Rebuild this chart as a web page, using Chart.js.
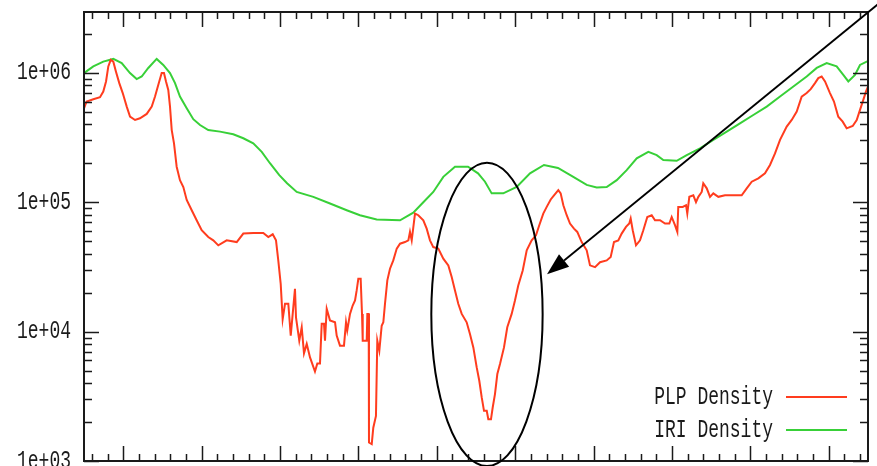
<!DOCTYPE html>
<html>
<head>
<meta charset="utf-8">
<script src="https://cdn.jsdelivr.net/npm/chart.js@4/dist/chart.umd.min.js"></script>
<style>
  html, body { margin: 0; padding: 0; background: #ffffff; }
  canvas { display: block; }
</style>
</head>
<body>
<canvas id="c" width="877" height="466"></canvas>
<script>
// ---- data (x: arbitrary sample axis 0..100, y: density) ----
const plpX = [
  0,0.34,1.19,2.04,2.46,2.81,3.10,3.41,3.74,4.08,
  4.50,4.94,5.45,5.87,6.51,7.14,8.0,8.64,9.06,9.48,
  9.91,10.2,10.46,10.75,10.97,11.19,11.48,11.82,12.24,12.67,
  13.1,13.74,14.37,15.01,15.85,16.49,17.13,18.2,19.48,20.32,
  21.59,22.87,23.51,24.07,24.49,24.78,25.09,25.34,25.64,26.06,
  26.37,26.62,26.91,27.04,27.46,27.77,28.06,28.41,28.83,29.46,
  29.76,30.1,30.32,30.61,30.74,30.96,31.38,32.02,32.23,32.65,
  33.16,33.42,33.58,33.93,34.27,34.57,34.78,34.99,35.29,35.46,
  35.55,36.06,36.14,36.31,36.35,36.7,36.9,37.24,37.41,37.67,
  37.97,38.18,38.39,38.69,39.03,39.45,39.89,40.31,40.94,41.37,
  41.58,41.8,42.22,42.64,43.28,43.71,44.13,44.55,45.19,45.83,
  46.47,46.9,47.32,47.74,48.18,48.81,49.23,49.66,50.09,50.42,
  50.73,51.02,51.37,51.57,51.91,52.13,52.42,52.72,53.06,53.57,
  53.99,54.55,54.97,55.39,55.96,56.47,57.1,57.65,58.07,58.58,
  59.02,59.53,59.95,60.5,60.8,61.14,61.57,61.99,62.5,62.92,
  63.48,64.12,64.54,65.18,65.82,66.67,67.18,67.6,68.15,68.58,
  69.13,69.55,69.73,69.99,70.41,70.92,71.34,71.85,72.41,72.83,
  73.47,74.11,74.66,74.96,75.38,75.68,75.8,76.37,76.79,76.95,
  77.21,77.72,78.06,78.36,78.79,78.99,79.43,79.85,80.27,80.91,
  81.76,83.89,84.53,85.17,86.01,86.86,87.5,88.14,88.78,89.63,
  90.27,90.91,91.54,92.18,92.69,93.24,93.66,94.09,94.52,95.15,
  95.66,96.21,96.77,97.28,98.05,98.56,98.98,99.4,99.74,100
];
const plpDensity = [
  5.32e5,6.0e5,6.25e5,6.48e5,7.16e5,8.57e5,1.12e6,1.26e6,1.22e6,1.02e6,
  8.32e5,6.97e5,5.48e5,4.58e5,4.32e5,4.45e5,4.81e5,5.48e5,6.55e5,8.07e5,
  9.95e5,9.95e5,8.57e5,7.38e5,5.48e5,3.61e5,2.85e5,1.88e5,1.48e5,1.31e5,
  1.04e5,8.67e4,7.25e4,6.07e4,5.38e4,5.07e4,4.64e4,5.07e4,4.92e4,5.72e4,
  5.78e4,5.78e4,5.38e4,5.65e4,5.07e4,3.55e4,2.34e4,1.25e4,1.64e4,1.64e4,
  9.31e3,1.37e4,2.14e4,1.29e4,8.51e3,1.08e4,6.79e3,8.03e3,6.32e3,4.92e3,
  5.68e3,5.68e3,1.15e4,1.15e4,8.51e3,1.50e4,1.22e4,1.18e4,9.31e3,7.79e3,
  7.79e3,1.18e4,1.02e4,1.37e4,1.59e4,1.74e4,2.08e4,2.56e4,2.56e4,1.37e4,
  8.51e3,8.51e3,1.37e4,1.37e4,1.39e3,1.35e3,1.81e3,2.23e3,8.51e3,7.12e3,
  1.11e4,1.18e4,1.64e4,2.49e4,3.06e4,3.55e4,4.38e4,4.78e4,4.92e4,5.07e4,
  5.89e4,5.07e4,8.17e4,7.93e4,7.25e4,6.25e4,5.07e4,4.50e4,4.38e4,3.66e4,
  3.25e4,2.64e4,2.08e4,1.64e4,1.37e4,1.18e4,9.60e3,7.55e3,5.29e3,4.17e3,
  3.10e3,2.44e3,2.44e3,2.10e3,2.10e3,2.59e3,3.29e3,4.70e3,5.62e3,7.55e3,
  1.08e4,1.37e4,1.74e4,2.27e4,2.97e4,4.25e4,5.07e4,5.55e4,6.64e4,8.17e4,
  9.20e4,1.05e5,1.13e5,1.24e5,1.17e5,9.48e4,7.93e4,6.84e4,6.25e4,5.89e4,
  4.92e4,4.25e4,3.25e4,3.15e4,3.44e4,3.55e4,3.77e4,4.92e4,5.07e4,5.72e4,
  6.44e4,6.84e4,7.48e4,6.07e4,4.64e4,5.07e4,6.07e4,7.69e4,7.93e4,7.25e4,
  7.25e4,6.84e4,6.84e4,7.69e4,6.64e4,5.89e4,9.20e4,9.20e4,9.48e4,8.17e4,
  1.10e5,1.13e5,1.00e5,1.10e5,1.20e5,1.40e5,1.28e5,1.10e5,1.17e5,1.10e5,
  1.13e5,1.13e5,1.28e5,1.44e5,1.53e5,1.67e5,1.94e5,2.38e5,3.03e5,3.84e5,
  4.32e5,5.01e5,6.55e5,6.97e5,7.48e5,8.32e5,9.10e5,9.36e5,8.57e5,6.97e5,
  6.0e5,4.58e5,4.19e5,3.72e5,3.88e5,4.32e5,5.17e5,6.18e5,7.16e5,7.83e5
];
const iriX = [
  0,1.19,2.46,3.74,4.81,5.87,6.72,7.36,8.2,9.27,
  10.11,10.97,11.61,12.24,13.1,13.94,14.8,15.85,17.35,19.04,
  20.32,21.59,22.67,23.72,24.91,25.9,27.13,29.25,31.38,33.51,
  35.2,37.33,40.31,42.0,43.28,44.55,45.83,47.32,48.98,50.26,
  51.15,52.0,53.48,55.19,56.89,58.67,60.46,62.41,64.12,65.4,
  66.67,67.95,69.22,70.5,71.98,73.05,73.89,75.6,76.88,78.57,
  80.27,81.98,83.67,85.37,87.08,88.78,90.48,92.18,93.46,94.73,
  96.0,96.85,97.49,98.34,98.98,99.83,100
];
const iriDensity = [
  9.95e5,1.12e6,1.22e6,1.28e6,1.19e6,9.95e5,8.94e5,9.36e5,1.09e6,1.28e6,
  1.15e6,9.95e5,8.32e5,6.55e5,5.32e5,4.38e5,3.95e5,3.61e5,3.51e5,3.35e5,
  3.12e5,2.85e5,2.45e5,2.0e5,1.62e5,1.40e5,1.20e5,1.10e5,9.77e4,8.67e4,
  7.93e4,7.35e4,7.25e4,8.29e4,1.00e5,1.20e5,1.57e5,1.88e5,1.88e5,1.67e5,
  1.44e5,1.17e5,1.17e5,1.31e5,1.67e5,1.94e5,1.84e5,1.57e5,1.36e5,1.30e5,
  1.31e5,1.48e5,1.77e5,2.18e5,2.45e5,2.31e5,2.12e5,2.09e5,2.31e5,2.61e5,
  3.03e5,3.51e5,4.07e5,4.72e5,5.48e5,6.55e5,7.83e5,9.36e5,1.09e6,1.19e6,
  1.12e6,9.64e5,8.57e5,9.64e5,1.15e6,1.22e6,1.23e6
];
const seriesNames = ["PLP Density", "IRI Density"];
const yTickLabels = ["1e+03", "1e+04", "1e+05", "1e+06"];
const yTickValues = [1e3, 1e4, 1e5, 1e6];
// annotation (data coords): highlighted dip and arrow pointing at it
const ellipseX = [44.3, 58.5];
const ellipseY = [914, 2.02e5];
const arrowFrom = [102, 3.68e6];
const arrowTo = [59.06, 2.77e4];

const RED = '#ff3c1e', GREEN = '#38d038', INK = '#1a1a1a';
const FONT = '18px "Liberation Mono", "DejaVu Sans Mono", monospace';

function stretchedText(ctx, s, x, y, align) {
  ctx.save();
  ctx.translate(x, y);
  ctx.scale(1, 1.4);
  ctx.textAlign = align;
  ctx.textBaseline = 'middle';
  ctx.fillText(s, 0, 0);
  ctx.restore();
}

const decor = {
  id: 'decor',
  afterDatasetsDraw(chart) {
    const ctx = chart.ctx, a = chart.chartArea;
    const xs = chart.scales.x, ys = chart.scales.y;
    ctx.save();
    ctx.strokeStyle = INK;
    // x ticks (top and bottom)
    ctx.lineWidth = 1.5;
    ctx.beginPath();
    for (let v = 1; v < 100; v += 2) {
      const px = Math.round(xs.getPixelForValue(v)) + 0.5;
      const len = ((v - 5) % 10 === 0) ? 15 : 7;
      ctx.moveTo(px, a.bottom); ctx.lineTo(px, a.bottom - len);
      ctx.moveTo(px, a.top); ctx.lineTo(px, a.top + len);
    }
    // y ticks (left and right)
    for (let k = 3; k <= 6; k++) {
      for (let m = 1; m <= 9; m++) {
        const v = m * Math.pow(10, k);
        if (v > ys.max) continue;
        const py = Math.round(ys.getPixelForValue(v)) + 0.5;
        const len = m === 1 ? 15 : 8;
        ctx.moveTo(a.left, py); ctx.lineTo(a.left + len, py);
        ctx.moveTo(a.right, py); ctx.lineTo(a.right - len, py);
      }
    }
    ctx.stroke();
    // frame
    ctx.lineWidth = 2;
    ctx.strokeRect(a.left, a.top, a.right - a.left, a.bottom - a.top);
    // y labels
    ctx.fillStyle = INK;
    ctx.font = FONT;
    yTickValues.forEach((v, i) => {
      stretchedText(ctx, yTickLabels[i], a.left - 13, ys.getPixelForValue(v), 'right');
    });
    // legend
    const colors = [RED, GREEN];
    seriesNames.forEach((name, i) => {
      const ly = a.bottom - 64 + i * 33;
      ctx.fillStyle = INK;
      stretchedText(ctx, name, a.right - 95, ly, 'right');
      ctx.strokeStyle = colors[i];
      ctx.lineWidth = 2;
      ctx.beginPath();
      ctx.moveTo(a.right - 82, ly); ctx.lineTo(a.right - 21, ly);
      ctx.stroke();
    });
    // ellipse
    const ex0 = xs.getPixelForValue(ellipseX[0]), ex1 = xs.getPixelForValue(ellipseX[1]);
    const ey0 = ys.getPixelForValue(ellipseY[1]), ey1 = ys.getPixelForValue(ellipseY[0]);
    ctx.strokeStyle = '#000';
    ctx.lineWidth = 2;
    ctx.beginPath();
    ctx.ellipse((ex0 + ex1) / 2, (ey0 + ey1) / 2, (ex1 - ex0) / 2, (ey1 - ey0) / 2, 0, 0, Math.PI * 2);
    ctx.stroke();
    // arrow
    const fx = xs.getPixelForValue(arrowFrom[0]), fy = ys.getPixelForValue(arrowFrom[1]);
    const tx = xs.getPixelForValue(arrowTo[0]), ty = ys.getPixelForValue(arrowTo[1]);
    const ang = Math.atan2(ty - fy, tx - fx);
    const hl = 22, hw = 8;
    const bx = tx - hl * Math.cos(ang), by = ty - hl * Math.sin(ang);
    ctx.lineWidth = 1.8;
    ctx.beginPath();
    ctx.moveTo(fx, fy); ctx.lineTo(bx, by);
    ctx.stroke();
    ctx.fillStyle = '#000';
    ctx.beginPath();
    ctx.moveTo(tx, ty);
    ctx.lineTo(bx + hw * Math.sin(ang), by - hw * Math.cos(ang));
    ctx.lineTo(bx - hw * Math.sin(ang), by + hw * Math.cos(ang));
    ctx.closePath();
    ctx.fill();
    ctx.restore();
  }
};

new Chart(document.getElementById('c'), {
  type: 'line',
  data: {
    datasets: [
      {
        label: seriesNames[0],
        data: plpX.map((x, i) => ({ x: x, y: plpDensity[i] })),
        borderColor: RED, borderWidth: 2, pointRadius: 0, tension: 0, fill: false
      },
      {
        label: seriesNames[1],
        data: iriX.map((x, i) => ({ x: x, y: iriDensity[i] })),
        borderColor: GREEN, borderWidth: 2, pointRadius: 0, tension: 0, fill: false
      }
    ]
  },
  options: {
    responsive: false,
    animation: false,
    devicePixelRatio: 1,
    layout: { padding: { left: 84, top: 12, right: 9, bottom: 5 } },
    plugins: { legend: { display: false }, tooltip: { enabled: false } },
    scales: {
      x: { type: 'linear', min: 0, max: 100, display: false },
      y: { type: 'logarithmic', min: 1000, max: 2.95e6, display: false }
    }
  },
  plugins: [decor]
});
</script>
</body>
</html>
